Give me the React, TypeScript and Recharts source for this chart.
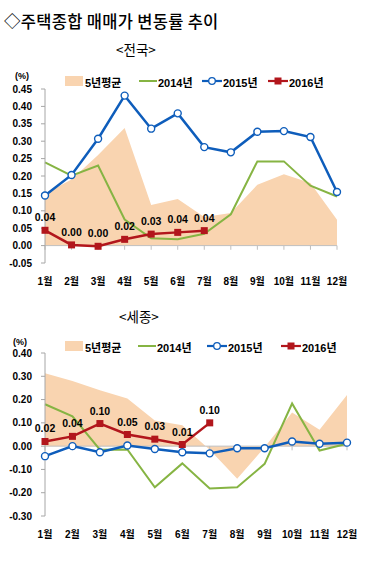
import React from 'react';
import { ComposedChart, Area, Line, XAxis, YAxis, ReferenceLine, LabelList } from 'recharts';

const months = ['1월', '2월', '3월', '4월', '5월', '6월', '7월', '8월', '9월', '10월', '11월', '12월'];

// 전국
const natAvg5 = [0.15, 0.19, 0.26, 0.338, 0.117, 0.134, 0.082, 0.094, 0.175, 0.205, 0.18, 0.074];
const nat2014 = [0.239, 0.201, 0.23, 0.075, 0.021, 0.018, 0.034, 0.09, 0.242, 0.242, 0.172, 0.141];
const nat2015 = [0.144, 0.203, 0.307, 0.431, 0.336, 0.38, 0.283, 0.268, 0.327, 0.329, 0.312, 0.154];
const nat2016 = [0.044, 0.002, -0.002, 0.018, 0.033, 0.038, 0.043, null, null, null, null, null];
const natTicks = [-0.05, 0, 0.05, 0.1, 0.15, 0.2, 0.25, 0.3, 0.35, 0.4, 0.45];

// 세종
const sjAvg5 = [0.313, 0.28, 0.24, 0.205, 0.11, 0.09, -0.015, -0.14, -0.005, 0.145, 0.07, 0.22];
const sj2014 = [0.18, 0.128, -0.015, -0.014, -0.177, -0.074, -0.182, -0.177, -0.076, 0.183, -0.019, 0.01];
const sj2015 = [-0.043, 0.0, -0.026, 0.003, -0.012, -0.026, -0.031, -0.009, -0.009, 0.02, 0.01, 0.015];
const sj2016 = [0.02, 0.042, 0.097, 0.05, 0.03, 0.007, 0.1, null, null, null, null, null];
const sjTicks = [-0.3, -0.2, -0.1, 0, 0.1, 0.2, 0.3, 0.4];

const C_AREA = '#F9D4B0';
const C_GREEN = '#86B443';
const C_BLUE = '#0E5DBB';
const C_RED = '#B2161C';
const FONT = '"Liberation Sans", "Noto Sans CJK KR", sans-serif';
const KFONT = '"Noto Sans CJK KR", sans-serif';

const build = (avg: number[], a: number[], b: number[], c: (number | null)[]) =>
  months.map((m, i) => ({ month: m, avg: avg[i], y2014: a[i], y2015: b[i], y2016: c[i] }));

const natData = build(natAvg5, nat2014, nat2015, nat2016);
const sjData = build(sjAvg5, sj2014, sj2015, sj2016);

const fmt = (v: any) => {
  if (v == null) return '';
  const n = Number(v);
  return Math.abs(n) < 0.005 ? '0.00' : n.toFixed(2);
};

const SquareDot = (p: any) => {
  if (p.cx == null || p.cy == null || p.value == null) return <g key={p.key} />;
  return <rect key={p.key} x={p.cx - 3.5} y={p.cy - 3.5} width={7} height={7} fill={C_RED} />;
};

const tickStyle = { fontSize: 10, fontWeight: 700, fill: '#000', fontFamily: FONT };

const Legend: React.FC<{ top: number; pos: number[] }> = ({ top, pos }) => (
  <div style={{ position: 'absolute', top, left: 0, width: 370, height: 14, fontSize: 11, fontWeight: 700, fontFamily: FONT }}>
    <div style={{ position: 'absolute', left: pos[0], top: 2, width: 18, height: 10, background: C_AREA }} />
    <span style={{ position: 'absolute', left: pos[0] + 20, top: 0 }}>5년평균</span>
    <svg style={{ position: 'absolute', left: pos[1], top: 0 }} width={18} height={14}>
      <line x1={0} y1={7} x2={18} y2={7} stroke={C_GREEN} strokeWidth={2} />
    </svg>
    <span style={{ position: 'absolute', left: pos[1] + 19, top: 0 }}>2014년</span>
    <svg style={{ position: 'absolute', left: pos[2], top: 0 }} width={20} height={14}>
      <line x1={0} y1={7} x2={20} y2={7} stroke={C_BLUE} strokeWidth={2.2} />
      <circle cx={10} cy={7} r={3.3} fill="#fff" stroke={C_BLUE} strokeWidth={1.3} />
    </svg>
    <span style={{ position: 'absolute', left: pos[2] + 21, top: 0 }}>2015년</span>
    <svg style={{ position: 'absolute', left: pos[3], top: 0 }} width={20} height={14}>
      <line x1={0} y1={7} x2={20} y2={7} stroke={C_RED} strokeWidth={2.2} />
      <rect x={6.5} y={3.5} width={7} height={7} fill={C_RED} />
    </svg>
    <span style={{ position: 'absolute', left: pos[3] + 21, top: 0 }}>2016년</span>
  </div>
);

interface ChartProps {
  data: any[];
  ticks: number[];
  domain: [number, number];
  marginTop: number;
  marginRight: number;
  xHeight: number;
  tickDrop: number;
}

const RateChart: React.FC<ChartProps> = ({ data, ticks, domain, marginTop, marginRight, xHeight, tickDrop }) => (
  <ComposedChart width={370} height={215} data={data} margin={{ top: marginTop, right: marginRight, bottom: 0, left: 0 }}>
    <XAxis
      dataKey="month"
      interval={0}
      axisLine={false}
      tickLine={false}
      tickSize={0}
      tickMargin={15}
      height={xHeight}
      tick={tickStyle}
    />
    <YAxis
      type="number"
      domain={domain}
      ticks={ticks}
      width={45}
      tickSize={4}
      tickMargin={9}
      axisLine={{ stroke: '#A6A6A6' }}
      tickLine={{ stroke: '#A6A6A6' }}
      tick={tickStyle}
      tickFormatter={fmt}
      allowDataOverflow
    />
    <Area dataKey="avg" type="linear" fill={C_AREA} fillOpacity={1} stroke="none" isAnimationActive={false} dot={false} activeDot={false} />
    <ReferenceLine y={0} stroke="#BFBFBF" strokeWidth={1} />
    {months.map((m) => (
      <ReferenceLine key={m} segment={[{ x: m, y: 0 }, { x: m, y: -tickDrop }]} stroke="#BFBFBF" />
    ))}
    <Line dataKey="y2014" type="linear" stroke={C_GREEN} strokeWidth={2} dot={false} activeDot={false} isAnimationActive={false} />
    <Line
      dataKey="y2015"
      type="linear"
      stroke={C_BLUE}
      strokeWidth={2.5}
      dot={{ r: 3.5, fill: '#fff', stroke: C_BLUE, strokeWidth: 1.4 }}
      activeDot={false}
      isAnimationActive={false}
    />
    <Line dataKey="y2016" type="linear" stroke={C_RED} strokeWidth={2.5} dot={SquareDot} activeDot={false} isAnimationActive={false}>
      <LabelList dataKey="y2016" position="top" offset={9} formatter={fmt} style={{ fontSize: 10.5, fontWeight: 700, fill: '#000', fontFamily: FONT }} />
    </Line>
  </ComposedChart>
);

export default function App() {
  return (
    <div style={{ position: 'absolute', left: 0, top: 0, width: 370, height: 562, background: '#fff', fontFamily: FONT, color: '#000' }}>
      <div style={{ position: 'absolute', left: 4, top: 9, fontSize: 16.5, fontWeight: 500, fontFamily: KFONT, whiteSpace: 'nowrap', letterSpacing: 0.3 }}>
        ◇주택종합 매매가 변동률 추이
      </div>
      <div style={{ position: 'absolute', left: 116, top: 39, fontSize: 13.5, fontFamily: KFONT }}>&lt;전국&gt;</div>
      <div style={{ position: 'absolute', left: 15, top: 71, fontSize: 9, fontWeight: 700 }}>(%)</div>
      <div style={{ position: 'absolute', left: 0, top: 80 }}>
        <RateChart data={natData} ticks={natTicks} domain={[-0.05, 0.45]} marginTop={9} marginRight={33} xHeight={32} tickDrop={0.012} />
      </div>
      <Legend top={74} pos={[65, 139, 202, 268]} />

      <div style={{ position: 'absolute', left: 119, top: 306, fontSize: 13.5, fontFamily: KFONT }}>&lt;세종&gt;</div>
      <div style={{ position: 'absolute', left: 13, top: 337, fontSize: 9, fontWeight: 700 }}>(%)</div>
      <div style={{ position: 'absolute', left: 0, top: 340 }}>
        <RateChart data={sjData} ticks={sjTicks} domain={[-0.3, 0.4]} marginTop={13} marginRight={23} xHeight={39} tickDrop={0.018} />
      </div>
      <Legend top={339} pos={[65, 138, 207, 281]} />
    </div>
  );
}
